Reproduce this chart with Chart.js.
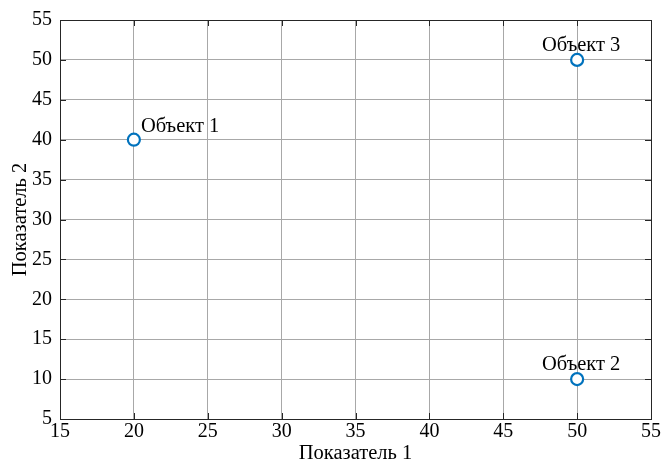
<!DOCTYPE html>
<html>
<head>
<meta charset="utf-8">
<script src="https://cdn.jsdelivr.net/npm/chart.js@4"></script>
<style>
  html, body { margin: 0; padding: 0; background: #fff; }
  #wrap { width: 664px; height: 463px; }
</style>
</head>
<body>
<div id="wrap"><canvas id="chart" width="664" height="463"></canvas></div>
<script>
const objectNames = ["Объект 1", "Объект 2", "Объект 3"];
const xValues = [20, 50, 50];
const yValues = [40, 10, 50];
const xTitle = "Показатель 1";
const yTitle = "Показатель 2";

const font = "'Liberation Serif', 'Times New Roman', serif";

// frame, inner tick marks and point labels
const extras = {
	id: "extras",
	afterDatasetsDraw(chart){
		const ctx = chart.ctx;
		const a = chart.chartArea;
		const xs = chart.scales.x;
		const ys = chart.scales.y;
		ctx.save();
		ctx.strokeStyle = "#262626";
		ctx.lineWidth = 1;
		ctx.beginPath();
		xs.ticks.forEach(t => {
			const px = Math.round(xs.getPixelForValue(t.value)) + 0.5;
			ctx.moveTo(px, a.bottom); ctx.lineTo(px, a.bottom - 6);
			ctx.moveTo(px, a.top); ctx.lineTo(px, a.top + 6);
		});
		ys.ticks.forEach(t => {
			const py = Math.round(ys.getPixelForValue(t.value)) + 0.5;
			ctx.moveTo(a.left, py); ctx.lineTo(a.left + 6, py);
			ctx.moveTo(a.right, py); ctx.lineTo(a.right - 6, py);
		});
		ctx.stroke();
		ctx.strokeRect(a.left + 0.5, a.top + 0.5, a.right - a.left, a.bottom - a.top);

		ctx.fillStyle = "#000";
		ctx.font = "20.5px " + font;
		ctx.textBaseline = "alphabetic";
		objectNames.forEach((name, i) => {
			const px = xs.getPixelForValue(xValues[i]);
			const py = ys.getPixelForValue(yValues[i]);
			if(i == 0){
				ctx.textAlign = "left";
				ctx.fillText(name, px + 7, py - 8);
			} else {
				ctx.textAlign = "center";
				ctx.fillText(name, px + 4, py - 9);
			}
		});
		ctx.restore();
	}
};

new Chart(document.getElementById("chart"), {
	type: "scatter",
	data: {
		datasets: [{
			data: xValues.map((x, i) => ({x: x, y: yValues[i]})),
			pointRadius: 6,
			pointHoverRadius: 6,
			pointBorderWidth: 2.2,
			pointBorderColor: "#0072BD",
			pointBackgroundColor: "#ffffff"
		}]
	},
	options: {
		responsive: false,
		animation: false,
		layout: { padding: { top: 20, right: 13, left: 0, bottom: 0 } },
		plugins: { legend: { display: false }, tooltip: { enabled: false } },
		scales: {
			x: {
				type: "linear",
				min: 15, max: 55,
				ticks: { stepSize: 5, color: "#000", font: { family: font, size: 20 }, padding: 1, maxRotation: 0 },
				grid: { color: "#a8a8a8", drawTicks: false },
				border: { display: false },
				title: { display: true, text: xTitle, color: "#000", font: { family: font, size: 20.5 }, padding: { top: 0, bottom: -3 } },
				afterFit(scale){ scale.height = 44; }
			},
			y: {
				type: "linear",
				min: 5, max: 55,
				ticks: { stepSize: 5, color: "#000", font: { family: font, size: 20 }, padding: 8 },
				grid: { color: "#a8a8a8", drawTicks: false },
				border: { display: false },
				title: { display: true, text: yTitle, color: "#000", font: { family: font, size: 20.5 }, padding: { top: 8, bottom: 0 } },
				afterFit(scale){ scale.width = 60; }
			}
		}
	},
	plugins: [extras]
});
</script>
</body>
</html>
